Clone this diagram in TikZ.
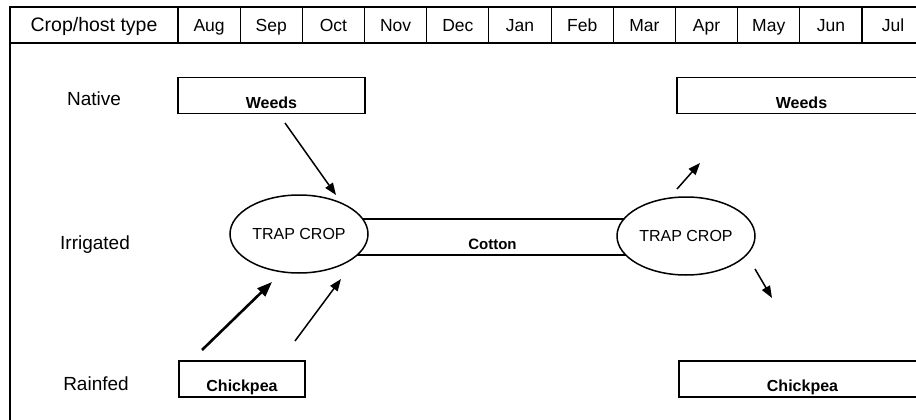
\documentclass[tikz,border=0pt]{standalone}
\usepackage{fontspec}
\setmainfont{Liberation Sans}
\usetikzlibrary{arrows.meta,shapes.geometric}
\tikzset{
  hdr/.style={anchor=base, font=\fontsize{17.5}{20}\selectfont},
  rowlbl/.style={anchor=base, font=\fontsize{19}{22}\selectfont},
  hostbox/.style={draw, line width=1.9pt, minimum height=36pt, inner sep=0pt,
    text height=25pt, text depth=0pt, font=\fontsize{16}{18}\selectfont\bfseries},
  trap/.style={draw, fill=white, ellipse, line width=1.5pt, minimum width=138pt,
    minimum height=78pt, inner sep=0pt, font=\fontsize{16}{18}\selectfont},
  arr/.style={-{Triangle[length=12pt,width=9pt]}, line width=1.5pt},
  thickarr/.style={-{Triangle[length=15pt,width=11pt]}, line width=2.6pt}
}
\begin{document}
\begin{tikzpicture}[x=1pt, y=-1pt]
        \clip (0,0) rectangle (916,420);
        \fill[white] (0,0) rectangle (916,420);

        % frame and header
        \draw[line width=1.4pt] (10,440) -- (10,7) -- (925,7) -- (925,440);
        \draw[line width=1.4pt] (10,43) -- (925,43);
        \node[hdr, font=\fontsize{19.5}{22}\selectfont] (hosttype) at (94,32) {Crop/host type};
        \foreach \m [count=\i from 0] in {Aug,Sep,Oct,Nov,Dec,Jan,Feb,Mar,Apr,May,Jun,Jul} {
          \draw[line width=1.1pt] ({178+62.18*\i},7) -- ({178+62.18*\i},43);
          \node[hdr] (m\i) at ({209.1+62.18*\i},32) {\m};
        }

        % row labels
        \node[rowlbl] (native) at (94,105) {Native};
        \node[rowlbl] (irrigated) at (95,249) {Irrigated};
        \node[rowlbl] (rainfed) at (96,390) {Rainfed};

        % host boxes
        \node[hostbox, minimum width=187pt] (weedsL) at (271.5,95.5) {Weeds};
        \node[hostbox, minimum width=249pt] (weedsR) at (801.5,95.5) {Weeds};
        \node[hostbox, minimum width=126pt] (chickL) at (242,379) {Chickpea};
        \node[hostbox, minimum width=247pt] (chickR) at (802.5,379) {Chickpea};

        % cotton between the trap crops
        \node[hostbox, line width=1.7pt, minimum width=387pt, font=\fontsize{15}{18}\selectfont\bfseries]
          (cotton) at (492.5,237) {Cotton};
        \node[trap] (trapL) at (299,234) {TRAP CROP};
        \node[trap] (trapR) at (686,236) {TRAP CROP};

        % moth movements
        \coordinate (a1) at (285,123);
        \coordinate (b1) at (336,195);
        \coordinate (a2) at (202,350);
        \coordinate (b2) at (272,282);
        \coordinate (a3) at (295,341);
        \coordinate (b3) at (341,279);
        \coordinate (a4) at (677,189);
        \coordinate (b4) at (700,163);
        \coordinate (a5) at (755,269);
        \coordinate (b5) at (772,298);
        \draw[arr] (a1) -- (b1);
        \draw[thickarr] (a2) -- (b2);
        \draw[arr] (a3) -- (b3);
        \draw[arr] (a4) -- (b4);
        \draw[arr] (a5) -- (b5);
\end{tikzpicture}
\end{document}
